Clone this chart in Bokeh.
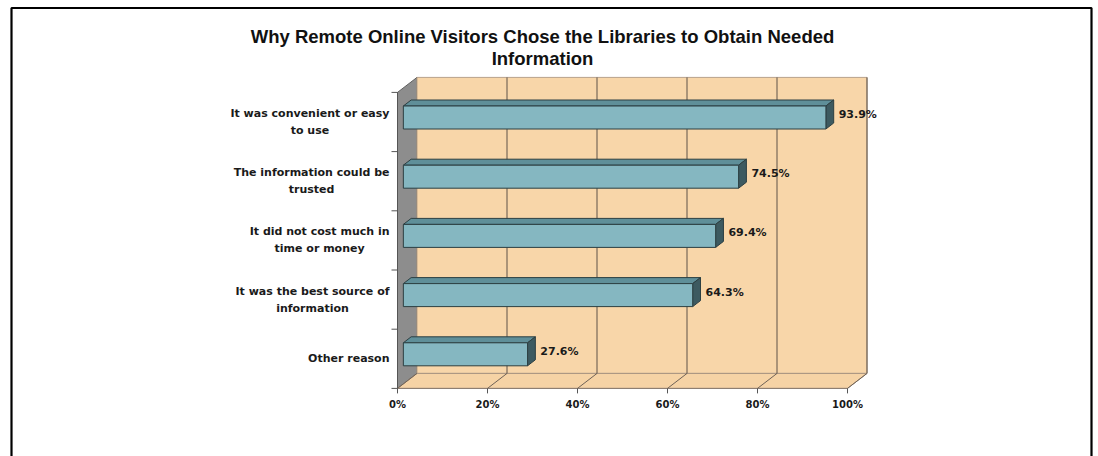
from bokeh.plotting import figure
from bokeh.models import Range1d, ColumnDataSource
from bokeh.core.properties import value
from bokeh.embed import file_html
from bokeh.resources import INLINE

# ---------------- data ----------------
categories = [
    "It was convenient or easy\nto use",
    "The information could be\ntrusted",
    "It did not cost much in\ntime or money",
    "It was the best source of\ninformation",
    "Other reason",
]
percents = [93.9, 74.5, 69.4, 64.3, 27.6]
value_labels = ["93.9%", "74.5%", "69.4%", "64.3%", "27.6%"]
tick_values = [0, 20, 40, 60, 80, 100]
tick_labels = ["0%", "20%", "40%", "60%", "80%", "100%"]
title_lines = ["Why Remote Online Visitors Chose the Libraries to Obtain Needed",
               "Information"]

# ---------------- layout ----------------
W, H = 1098, 456
X0_PX, SX = 397.0, 4.5        # pixel of 0 %, pixels per percent
Y0_PX, SY = 121.5, 59.2       # pixel of first category band centre, pixels per band
DX = 19.5 / SX                # depth offset (x) in data units
DY = -15.0 / SY               # depth offset (y) in data units
XMAX = 100.0


def px_x(px):
    return (px - X0_PX) / SX


def px_y(py):
    return (py - Y0_PX) / SY


p = figure(width=W, height=H,
           x_range=Range1d(px_x(0), px_x(W)),
           y_range=Range1d(px_y(H), px_y(0)),
           output_backend="svg", toolbar_location=None,
           x_axis_type=None, y_axis_type=None, min_border=0)
p.grid.visible = False
p.outline_line_color = None
p.background_fill_color = "white"
p.border_fill_color = "white"

n = len(categories)
top_k, bot_k = -0.5, n - 0.5

# page border
bx0, bx1 = px_x(11), px_x(1091)
by0, by1 = px_y(7.5), px_y(470)
p.line([bx0, bx0, bx1, bx1], [by1, by0, by0, by1], line_color="black", line_width=2.2)

# side wall (gray)
p.patch([0, DX, DX, 0], [top_k, top_k + DY, bot_k + DY, bot_k],
        fill_color="#8d8d8d", line_color="#5d5d5d", line_width=1)
# back wall
p.patch([DX, XMAX + DX, XMAX + DX, DX],
        [top_k + DY, top_k + DY, bot_k + DY, bot_k + DY],
        fill_color="#f8d6a9", line_color="#b8a28a", line_width=1)
# floor
p.patch([0, XMAX, XMAX + DX, DX], [bot_k, bot_k, bot_k + DY, bot_k + DY],
        fill_color="#f6d3a5", line_color="#a89480", line_width=1)

# back wall grid lines
p.segment(x0=[t + DX for t in tick_values[1:]], y0=[top_k + DY] * (len(tick_values) - 1),
          x1=[t + DX for t in tick_values[1:]], y1=[bot_k + DY] * (len(tick_values) - 1),
          line_color="#5f5249", line_width=1)
# floor diagonals
p.segment(x0=tick_values, y0=[bot_k] * len(tick_values),
          x1=[t + DX for t in tick_values], y1=[bot_k + DY] * len(tick_values),
          line_color="#6f6257", line_width=1)
# front floor edge & front side-wall edge
p.line([0, XMAX], [bot_k, bot_k], line_color="#8a7c70", line_width=1)
p.line([0, 0], [top_k, bot_k], line_color="#555555", line_width=1)
# x ticks
p.segment(x0=tick_values, y0=[bot_k] * len(tick_values),
          x1=tick_values, y1=[bot_k + 5 / SY] * len(tick_values),
          line_color="#555555", line_width=1)
# y ticks on side wall
bounds = [top_k + i for i in range(n + 1)]
p.segment(x0=[-6 / SX] * len(bounds), y0=bounds, x1=[0] * len(bounds), y1=bounds,
          line_color="#555555", line_width=1)

# bars
d0, d1 = 0.3, 0.7
hh = 11.5 / SY
for k, v in enumerate(percents):
    yt0, yb0 = k + d0 * DY - hh, k + d0 * DY + hh
    yt1, yb1 = k + d1 * DY - hh, k + d1 * DY + hh
    # top face
    p.patch([d0 * DX, v + d0 * DX, v + d1 * DX, d1 * DX], [yt0, yt0, yt1, yt1],
            fill_color="#5f8f99", line_color="#2c3f42", line_width=1)
    # end face
    p.patch([v + d0 * DX, v + d1 * DX, v + d1 * DX, v + d0 * DX], [yt0, yt1, yb1, yb0],
            fill_color="#3d5a60", line_color="#2c3f42", line_width=1)
    # front face
    p.quad(left=d0 * DX, right=v + d0 * DX, top=yt0, bottom=yb0,
           fill_color="#85b7c1", line_color="#2c3f42", line_width=1)

# value labels
src_v = ColumnDataSource(dict(
    x=[v + d1 * DX + 5 / SX for v in percents],
    y=[k + 0.5 * DY for k in range(n)],
    t=value_labels))
p.text(x="x", y="y", text="t", source=src_v, text_font=value("DejaVu Sans"),
       text_font_style="bold", text_font_size="11px", text_color="#1a1a1a",
       text_align="left", text_baseline="middle")

# category labels
src_c = ColumnDataSource(dict(x=[px_x(389)] * n, y=list(range(n)), t=categories))
p.text(x="x", y="y", text="t", source=src_c, text_font=value("DejaVu Sans"),
       text_font_style="bold", text_font_size="11px", text_color="#1a1a1a",
       anchor="center_right", text_align="center", text_line_height=1.3)

# x tick labels
src_t = ColumnDataSource(dict(x=tick_values, y=[bot_k + 16 / SY] * len(tick_values), t=tick_labels))
p.text(x="x", y="y", text="t", source=src_t, text_font=value("DejaVu Sans"),
       text_font_style="bold", text_font_size="10px", text_color="#1a1a1a",
       text_align="center", text_baseline="middle")

# title
src_h = ColumnDataSource(dict(x=[px_x(542)] * 2, y=[px_y(36), px_y(58)], t=title_lines))
p.text(x="x", y="y", text="t", source=src_h, text_font=value("Liberation Sans"),
       text_font_style="bold", text_font_size="18.5px", text_color="#111111",
       text_align="center", text_baseline="alphabetic")

open("out.html", "w").write(file_html(p, INLINE))
